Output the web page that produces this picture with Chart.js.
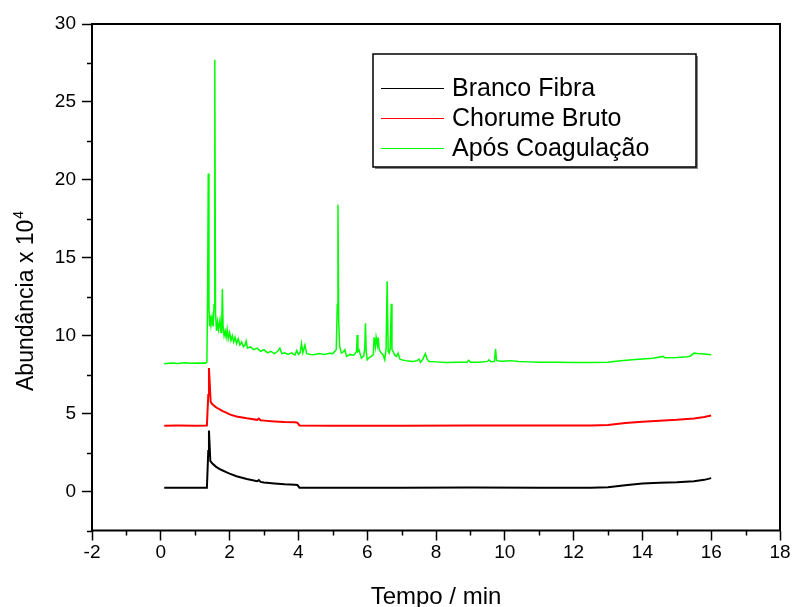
<!DOCTYPE html>
<html>
<head>
<meta charset="utf-8">
<script src="https://cdn.jsdelivr.net/npm/chart.js@4"></script>
<style>
  body { margin: 0; background: #fff; }
  canvas { display: block; }
</style>
</head>
<body>
<canvas id="chart" width="793" height="607"></canvas>
<script>
// ===== Data (tempo in min, abundancia x 10^4) =====
const seriesNames = ["Branco Fibra", "Chorume Bruto", "Após Coagulação"];
const seriesColors = ["#000000", "#ff0000", "#00ff00"];

const brancoX = [0.1, 0.5, 1.0, 1.34, 1.38, 1.40, 1.44, 1.50, 1.60, 1.70, 1.80, 1.90, 2.0, 2.2, 2.5, 2.8, 2.85, 2.9, 3.0, 3.3, 3.6, 3.9, 3.97, 4.03, 5, 7, 9, 11, 12.5, 13.0, 13.5, 14, 14.5, 15, 15.5, 15.8, 16.0];
const brancoY = [0.24, 0.25, 0.24, 0.25, 2.6, 3.92, 1.95, 1.8, 1.6, 1.45, 1.35, 1.25, 1.15, 0.98, 0.8, 0.66, 0.74, 0.62, 0.58, 0.52, 0.47, 0.44, 0.42, 0.25, 0.25, 0.25, 0.26, 0.25, 0.25, 0.27, 0.4, 0.52, 0.57, 0.6, 0.66, 0.75, 0.86];

const chorumeX = [0.1, 0.5, 1.0, 1.34, 1.38, 1.40, 1.45, 1.50, 1.60, 1.70, 1.80, 1.90, 2.0, 2.2, 2.5, 2.8, 2.85, 2.9, 3.0, 3.3, 3.6, 3.9, 3.97, 4.03, 5, 7, 9, 11, 12.5, 13.0, 13.5, 14, 14.5, 15, 15.5, 15.8, 16.0];
const chorumeY = [4.22, 4.23, 4.22, 4.23, 6.2, 7.92, 5.75, 5.6, 5.42, 5.28, 5.16, 5.06, 4.95, 4.82, 4.7, 4.6, 4.68, 4.57, 4.55, 4.5, 4.46, 4.44, 4.42, 4.24, 4.22, 4.22, 4.23, 4.24, 4.24, 4.27, 4.4, 4.48, 4.55, 4.6, 4.68, 4.78, 4.88];

const coagX = [0.10, 0.30, 0.50, 0.70, 0.90, 1.10, 1.30, 1.34, 1.36, 1.38, 1.40, 1.42, 1.44, 1.46, 1.49, 1.52, 1.55, 1.57, 1.59, 1.62, 1.65, 1.68, 1.72, 1.75, 1.77, 1.79, 1.81, 1.84, 1.87, 1.90, 1.93, 1.96, 2.00, 2.04, 2.08, 2.12, 2.16, 2.20, 2.25, 2.30, 2.35, 2.40, 2.45, 2.48, 2.52, 2.60, 2.70, 2.80, 2.90, 3.00, 3.10, 3.20, 3.30, 3.40, 3.46, 3.52, 3.60, 3.70, 3.80, 3.90, 3.95, 4.00, 4.05, 4.09, 4.13, 4.19, 4.24, 4.35, 4.45, 4.60, 4.75, 4.90, 5.00, 5.06, 5.10, 5.13, 5.15, 5.17, 5.20, 5.25, 5.30, 5.35, 5.40, 5.50, 5.60, 5.66, 5.69, 5.71, 5.73, 5.76, 5.83, 5.90, 5.93, 5.95, 5.97, 6.00, 6.06, 6.12, 6.18, 6.20, 6.24, 6.26, 6.30, 6.32, 6.35, 6.40, 6.46, 6.51, 6.55, 6.58, 6.61, 6.64, 6.67, 6.70, 6.72, 6.75, 6.80, 6.85, 6.90, 6.95, 7.00, 7.10, 7.20, 7.33, 7.45, 7.51, 7.55, 7.62, 7.69, 7.74, 7.80, 8.00, 8.30, 8.60, 8.90, 8.95, 9.00, 9.27, 9.50, 9.54, 9.60, 9.70, 9.73, 9.76, 9.90, 10.16, 10.40, 10.70, 11.00, 11.50, 12.00, 12.50, 13.00, 13.30, 13.70, 14.00, 14.30, 14.60, 14.65, 15.00, 15.30, 15.40, 15.50, 15.60, 15.80, 16.00];
const coagY = [8.20, 8.25, 8.22, 8.26, 8.23, 8.25, 8.24, 8.30, 12.5, 20.4, 11.8, 10.6, 11.3, 10.7, 11.2, 10.6, 12.0, 27.7, 11.5, 10.3, 10.9, 10.4, 11.0, 10.2, 10.5, 13.0, 10.6, 10.0, 10.3, 9.9, 10.4, 9.8, 10.2, 9.7, 10.0, 9.6, 9.9, 9.5, 9.8, 9.4, 9.6, 9.3, 9.4, 9.65, 9.2, 9.3, 9.1, 9.2, 9.0, 9.1, 8.9, 9.0, 8.85, 9.0, 9.2, 8.85, 8.9, 8.8, 8.9, 8.75, 9.05, 8.8, 8.9, 9.5, 8.9, 9.4, 8.85, 8.8, 8.78, 8.85, 8.8, 8.88, 8.85, 9.0, 9.1, 12.0, 18.4, 11.0, 9.3, 8.88, 8.95, 9.1, 8.67, 8.8, 8.75, 8.88, 9.0, 10.05, 9.0, 9.1, 8.56, 8.7, 9.2, 10.8, 9.0, 8.45, 8.6, 8.67, 8.8, 9.9, 9.3, 9.9, 9.4, 9.9, 9.1, 8.9, 8.78, 8.45, 9.2, 13.5, 9.0, 8.88, 9.2, 12.05, 9.1, 9.0, 8.75, 8.67, 8.88, 8.5, 8.45, 8.4, 8.38, 8.35, 8.4, 8.5, 8.3, 8.5, 8.85, 8.5, 8.35, 8.32, 8.28, 8.3, 8.3, 8.42, 8.3, 8.3, 8.35, 8.45, 8.33, 8.35, 9.15, 8.4, 8.36, 8.4, 8.35, 8.32, 8.30, 8.29, 8.28, 8.28, 8.30, 8.38, 8.45, 8.5, 8.55, 8.67, 8.58, 8.6, 8.65, 8.7, 8.88, 8.85, 8.82, 8.77];

// tick labels
const xTicks = [-2, 0, 2, 4, 6, 8, 10, 12, 14, 16, 18];
const xMinor = [-1, 1, 3, 5, 7, 9, 11, 13, 15, 17];
const yTicks = [0, 5, 10, 15, 20, 25, 30];
const yMinor = [-2.5, 2.5, 7.5, 12.5, 17.5, 22.5, 27.5];

const FONT = "'Liberation Sans', Arial, sans-serif";

function pts(xs, ys) {
  return xs.map((x, i) => ({ x: x, y: ys[i] }));
}

// ===== Frame, minor ticks, y title, legend =====
const decorPlugin = {
  id: "decor",
  afterDraw(chart) {
    const ctx = chart.ctx;
    const a = chart.chartArea;
    const xs = chart.scales.x;
    const ys = chart.scales.y;

    ctx.save();
    ctx.strokeStyle = "#000";
    ctx.lineWidth = 2;
    ctx.strokeRect(a.left, a.top, a.right - a.left, a.bottom - a.top);

    // minor ticks
    ctx.lineWidth = 1.5;
    ctx.beginPath();
    xMinor.forEach(v => {
      const px = Math.round(xs.getPixelForValue(v)) + 0.5;
      ctx.moveTo(px, a.bottom);
      ctx.lineTo(px, a.bottom + 5);
    });
    yMinor.forEach(v => {
      const py = Math.round(ys.getPixelForValue(v)) + 0.5;
      ctx.moveTo(a.left, py);
      ctx.lineTo(a.left - 5, py);
    });
    ctx.stroke();

    // y title with superscript
    ctx.fillStyle = "#000";
    ctx.translate(33, 391);
    ctx.rotate(-Math.PI / 2);
    ctx.textBaseline = "alphabetic";
    ctx.textAlign = "left";
    ctx.font = "23px " + FONT;
    const main = "Abundância x 10";
    const w1 = ctx.measureText(main).width;
    ctx.fillText(main, 0, 0);
    ctx.font = "14px " + FONT;
    ctx.fillText("4", w1 + 1, -10);
    ctx.setTransform(1, 0, 0, 1, 0, 0);

    // legend box
    const bx = 373, by = 54, bw = 323, bh = 113;
    ctx.fillStyle = "#888";
    ctx.fillRect(bx + 2, by + 2, bw, bh);
    ctx.fillStyle = "#fff";
    ctx.fillRect(bx, by, bw, bh);
    ctx.strokeStyle = "#000";
    ctx.lineWidth = 1.5;
    ctx.strokeRect(bx, by, bw, bh);

    const rows = [88, 118, 148];
    ctx.font = "25px " + FONT;
    ctx.textBaseline = "middle";
    seriesNames.forEach((name, i) => {
      ctx.strokeStyle = seriesColors[i];
      ctx.lineWidth = 1;
      ctx.beginPath();
      ctx.moveTo(381, rows[i] + 0.5);
      ctx.lineTo(444, rows[i] + 0.5);
      ctx.stroke();
      ctx.fillStyle = "#000";
      ctx.fillText(name, 452, rows[i] + 1);
    });
    ctx.restore();
  }
};

const ctx = document.getElementById("chart").getContext("2d");

new Chart(ctx, {
  type: "line",
  data: {
    datasets: [
      { label: seriesNames[0], data: pts(brancoX, brancoY), borderColor: seriesColors[0], borderWidth: 2 },
      { label: seriesNames[1], data: pts(chorumeX, chorumeY), borderColor: seriesColors[1], borderWidth: 2 },
      { label: seriesNames[2], data: pts(coagX, coagY), borderColor: seriesColors[2], borderWidth: 1.5 }
    ]
  },
  options: {
    responsive: false,
    animation: false,
    devicePixelRatio: 1,
    layout: { padding: { left: 0, top: 24, right: 13, bottom: 0 } },
    elements: { point: { radius: 0 }, line: { tension: 0 } },
    plugins: { legend: { display: false }, tooltip: { enabled: false } },
    scales: {
      x: {
        type: "linear",
        min: -2,
        max: 18,
        afterBuildTicks: s => { s.ticks = xTicks.map(v => ({ value: v })); },
        afterFit: s => { s.height = 76.5; },
        grid: { drawOnChartArea: false, tickLength: 10, tickWidth: 1.5, tickColor: "#000" },
        border: { display: false },
        ticks: { autoSkip: false, maxRotation: 0, padding: 1, color: "#000", font: { family: FONT, size: 19 } },
        title: { display: true, text: "Tempo / min", color: "#000", padding: 0, font: { family: FONT, size: 24, lineHeight: 0.8 } }
      },
      y: {
        min: -2.5,
        max: 30,
        afterBuildTicks: s => { s.ticks = yTicks.map(v => ({ value: v })); },
        afterFit: s => { s.width = 92; },
        grid: { drawOnChartArea: false, tickLength: 10, tickWidth: 1.5, tickColor: "#000" },
        border: { display: false },
        ticks: { padding: 6, color: "#000", font: { family: FONT, size: 19 } }
      }
    }
  },
  plugins: [decorPlugin]
});
</script>
</body>
</html>
